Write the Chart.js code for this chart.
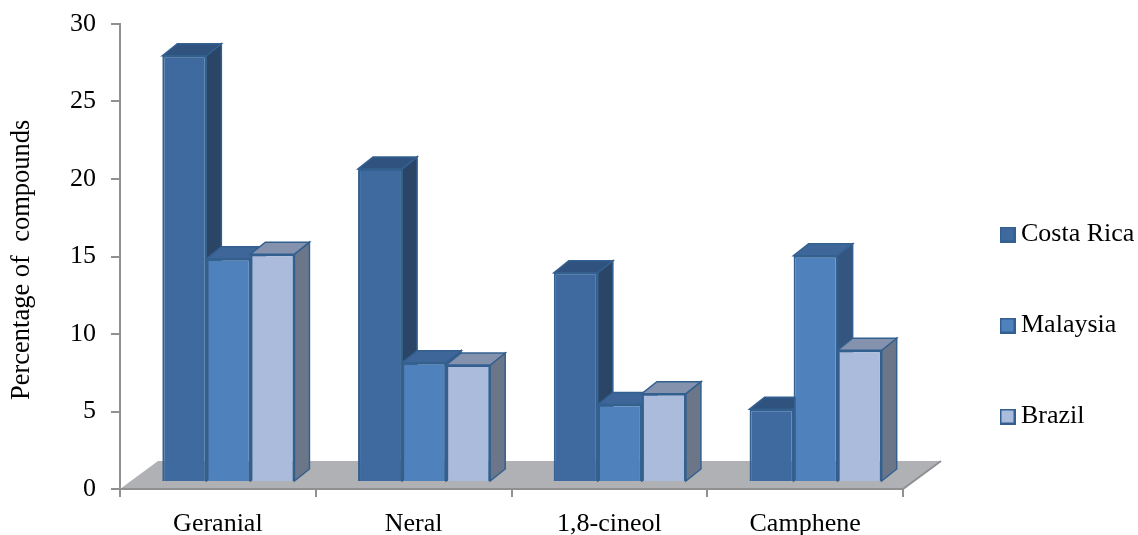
<!DOCTYPE html>
<html>
<head>
<meta charset="utf-8">
<style>
  html, body { margin: 0; padding: 0; background: #fff; }
  #wrap { width: 1138px; height: 535px; }
</style>
<script src="https://cdn.jsdelivr.net/npm/chart.js@4"></script>
</head>
<body>
<div id="wrap"><canvas id="chart" width="1138" height="535"></canvas></div>
<script>
    // Data
    const categories = ['Geranial', 'Neral', '1,8-cineol', 'Camphene'];
    const costaRica = [27.5, 20.2, 13.5, 4.7];
    const malaysia = [14.4, 7.7, 5.0, 14.6];
    const brazil = [14.7, 7.55, 5.7, 8.5];
    const yTicks = [0, 5, 10, 15, 20, 25, 30];

    // Colours: front, top, side
    const seriesColors = [
      { front: '#3e6a9f', top: '#30527f', side: '#2b4566' },
      { front: '#4f81bd', top: '#3e6699', side: '#33557f' },
      { front: '#aabbdb', top: '#8492ae', side: '#6c7689' }
    ];
    const edgeColor = '#33608f';
    const serif = '"Liberation Serif", "Times New Roman", serif';
    const fontSize = 26;

    // Bars stand a little in from the axis corner
    const barShift = { x: 10.5, y: -7 };
    const depth = { x: 15, y: -12 };
    const floorDepth = { x: 38, y: -28 };

    function swatch(c) {
      const cv = document.createElement('canvas');
      cv.width = 16;
      cv.height = 16;
      const g = cv.getContext('2d');
      g.fillStyle = c.front;
      g.fillRect(0, 0, 16, 16);
      g.strokeStyle = edgeColor;
      g.lineWidth = 2;
      g.strokeRect(1, 1, 14, 14);
      return cv;
    }

    function poly(ctx, pts, fill, stroke) {
      ctx.beginPath();
      pts.forEach((p, i) => (i ? ctx.lineTo(p[0], p[1]) : ctx.moveTo(p[0], p[1])));
      ctx.closePath();
      ctx.fillStyle = fill;
      ctx.fill();
      if (stroke) {
        ctx.strokeStyle = stroke;
        ctx.lineWidth = 1.5;
        ctx.stroke();
      }
    }

    const bars3d = {
      id: 'bars3d',
      beforeDatasetsDraw(chart) {
        const { ctx, chartArea: a } = chart;

        // Floor
        poly(ctx, [
          [a.left, a.bottom],
          [a.left + floorDepth.x, a.bottom + floorDepth.y],
          [a.right + floorDepth.x, a.bottom + floorDepth.y],
          [a.right, a.bottom]
        ], '#afb1b4');
        ctx.strokeStyle = '#8f9092';
        ctx.lineWidth = 2;
        ctx.beginPath();
        ctx.moveTo(a.left, a.bottom);
        ctx.lineTo(a.right, a.bottom);
        ctx.lineTo(a.right + floorDepth.x, a.bottom + floorDepth.y);
        ctx.stroke();

        // Top and side faces, left to right so nearer faces overlap
        ctx.save();
        ctx.translate(barShift.x, barShift.y);
        categories.forEach((cat, i) => {
          seriesColors.forEach((c, d) => {
            const bar = chart.getDatasetMeta(d).data[i];
            const l = bar.x - bar.width / 2;
            const r = bar.x + bar.width / 2;
            const t = bar.y;
            const b = bar.base;
            poly(ctx, [[r, t], [r + depth.x, t + depth.y], [r + depth.x, b + depth.y], [r, b]], c.side, edgeColor);
            poly(ctx, [[l, t], [l + depth.x, t + depth.y], [r + depth.x, t + depth.y], [r, t]], c.top, edgeColor);
          });
        });
      },
      afterDatasetsDraw(chart) {
        chart.ctx.restore();
      }
    };

    function makeDataset(label, data, c) {
      return {
        label,
        data,
        backgroundColor: c.front,
        borderColor: edgeColor,
        borderWidth: 2,
        barPercentage: 1,
        categoryPercentage: 0.675,
        clip: false,
        pointStyle: swatch(c)
      };
    }

    new Chart(document.getElementById('chart'), {
      type: 'bar',
      data: {
        labels: categories,
        datasets: [
          makeDataset('Costa Rica', costaRica, seriesColors[0]),
          makeDataset('Malaysia', malaysia, seriesColors[1]),
          makeDataset('Brazil', brazil, seriesColors[2])
        ]
      },
      plugins: [bars3d],
      options: {
        responsive: false,
        animation: false,
        layout: { padding: { top: 24, left: 0, right: 0, bottom: 0 } },
        plugins: {
          tooltip: { enabled: false },
          legend: {
            position: 'right',
            maxWidth: 196,
            // empty title only pushes the rows down to where they sit
            title: { display: true, text: '', font: { size: 10, lineHeight: 1.2 }, padding: { top: 40, bottom: 40 } },
            labels: {
              usePointStyle: true,
              boxWidth: 1,
              boxHeight: 16,
              padding: 65,
              color: '#000',
              font: { family: serif, size: fontSize },
              generateLabels(chart) {
                return chart.data.datasets.map((ds, i) => ({
                  text: ds.label,
                  fontColor: '#000',
                  pointStyle: ds.pointStyle,
                  datasetIndex: i
                }));
              }
            }
          }
        },
        scales: {
          x: {
            grid: { drawOnChartArea: false, color: '#8f9092', lineWidth: 2, tickLength: 8 },
            border: { color: '#8f9092', width: 2 },
            ticks: { color: '#000', font: { family: serif, size: fontSize }, padding: 12, maxRotation: 0 },
            afterFit(s) { s.height = 46; s.paddingLeft = 0; s.paddingRight = 0; }
          },
          y: {
            min: 0,
            max: 30,
            afterBuildTicks(s) { s.ticks = yTicks.map(v => ({ value: v })); },
            grid: { drawOnChartArea: false, color: '#8f9092', lineWidth: 2, tickLength: 9 },
            border: { color: '#8f9092', width: 2 },
            ticks: { color: '#000', font: { family: serif, size: fontSize }, padding: 15 },
            title: {
              display: true,
              text: 'Percentage of  compounds ',
              color: '#000',
              font: { family: serif, size: 26.5 },
              padding: { top: 6, bottom: 0 }
            },
            afterFit(s) { s.width = 120; s.paddingTop = 0; s.paddingBottom = 0; }
          },
          gap: {
            axis: 'y',
            position: 'right',
            ticks: { display: false },
            grid: { display: false },
            border: { display: false },
            afterFit(s) { s.width = 39; s.paddingTop = 0; s.paddingBottom = 0; }
          }
        }
      }
    });
</script>
</body>
</html>
